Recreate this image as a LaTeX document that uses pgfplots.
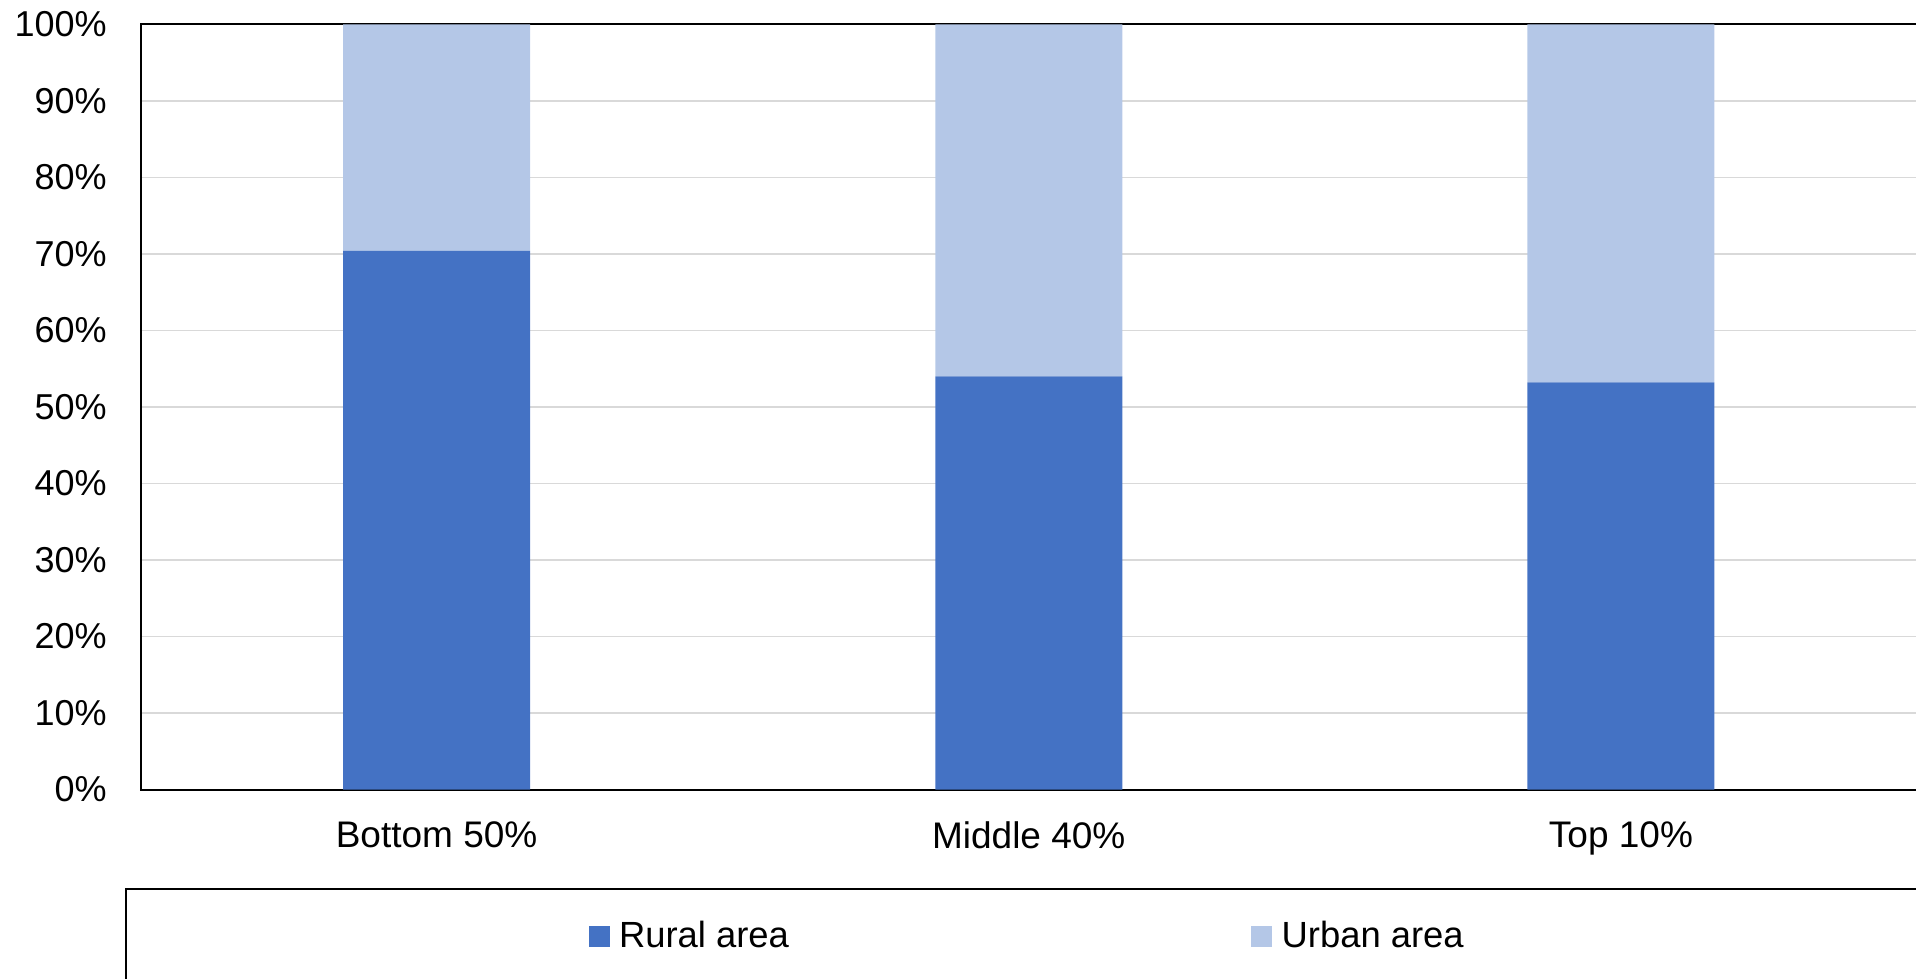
\documentclass[border=0pt]{standalone}
\usepackage{pgfplots}
\pgfplotsset{compat=1.18}
\usepackage{fontspec}
\setmainfont{Liberation Sans}
\definecolor{rural}{HTML}{4472C4}
\definecolor{urban}{HTML}{B4C7E7}
\definecolor{gridc}{HTML}{D9D9D9}
\pgfplotsset{sqlegend/.style={legend image code/.code={\fill[##1] (0bp,-5.25bp) rectangle (10.5bp,5.25bp);}}}
\begin{document}
\begin{tikzpicture}
\path[use as bounding box] (0,0) rectangle (958bp,489.5bp);
\begin{axis}[
  at={(70.25bp,94.75bp)}, anchor=south west,
  scale only axis, width=888.25bp, height=382.55bp,
  ybar stacked, bar width=93.5bp,
  xmin=-0.5, xmax=2.5, ymin=0, ymax=100,
  xtick={0,1,2}, xticklabels={Bottom 50\%, Middle 40\%, Top 10\%},
  ytick={0,10,20,30,40,50,60,70,80,90,100},
  yticklabels={0\%,10\%,20\%,30\%,40\%,50\%,60\%,70\%,80\%,90\%,100\%},
  major tick length=0pt,
  ymajorgrids, grid style={gridc, line width=0.75bp},
  axis line style={black, line width=1bp},
  yticklabel style={font=\fontsize{18bp}{21bp}\selectfont, anchor=east, inner sep=0pt, xshift=-16.75bp},
  xticklabel style={font=\fontsize{18.5bp}{22bp}\selectfont, anchor=north, inner sep=0pt, yshift=-15.85bp},
  legend style={at={(-0.008725,-0.12874)}, anchor=north west, draw=black, line width=1bp,
    legend columns=2, inner xsep=231.35bp, inner ysep=16.2bp,
    font=\fontsize{18.2bp}{21bp}\selectfont,
    nodes={inner sep=0pt},
    /tikz/every odd column/.append style={column sep=4.65bp},
    /tikz/every even column/.append style={column sep=231.2bp}},
]
\addplot[fill=rural, draw=none, sqlegend]
  coordinates {(0,70.4) (1,54.0) (2,53.2)};
\addplot[fill=urban, draw=none, sqlegend]
  coordinates {(0,29.6) (1,46.0) (2,46.8)};
\legend{Rural area, Urban area}
\end{axis}
\end{tikzpicture}
\end{document}
